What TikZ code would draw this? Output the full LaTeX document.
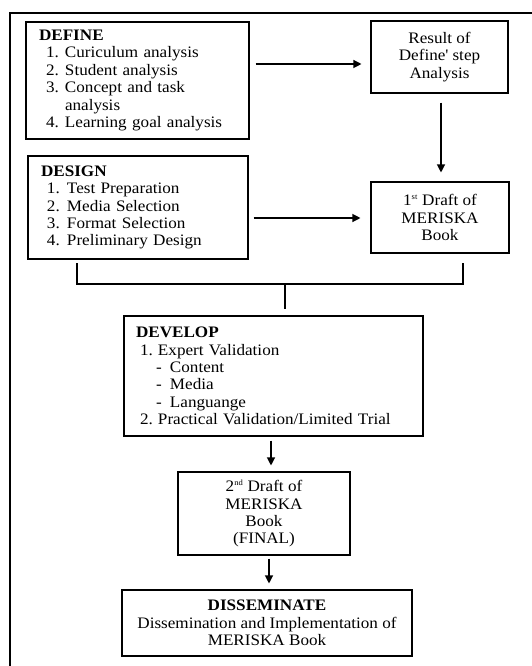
\documentclass[tikz,border=0pt]{standalone}
\usepackage{fontspec}
\setmainfont{Liberation Serif}[FakeStretch=1.07]
\usetikzlibrary{arrows.meta}
\newcommand{\rowlead}[3]{\hspace*{#1pt}\makebox[#2pt][l]{#3}}
\begin{document}
\begin{tikzpicture}[x=1pt, y=-1pt,
  font=\fontsize{16}{17.4}\selectfont,
  lbox/.style={draw, line width=1.1pt, align=left, inner ysep=0pt, inner xsep=13pt},
  cbox/.style={draw, line width=1.1pt, align=center, inner sep=0pt},
  conn/.style={line width=1.2pt},
  arr/.style={line width=1.2pt, -{Triangle[length=8pt,width=8pt]}},
  frame/.style={line width=1.4pt}]
\useasboundingbox (0,0) rectangle (532,666);
\draw[frame] (532,13) -- (10,13) -- (10,666);

\node[lbox, text width=197pt, minimum height=117pt] (define) at (137.5,80.5)
 {\textbf{DEFINE}\\
  \rowlead{7}{19}{1.}Curiculum analysis\\
  \rowlead{7}{19}{2.}Student analysis\\
  \rowlead{7}{19}{3.}Concept and task\\
  \rowlead{26}{0}{}analysis\\
  \rowlead{7}{19}{4.}Learning goal analysis};

\node[cbox, minimum width=137pt, minimum height=72pt] (result) at (439.5,57)
 {Result of\\ Define\textquotesingle{} step\\ Analysis};

\node[lbox, text width=194pt, minimum height=103pt] (design) at (138,207.5)
 {\textbf{DESIGN}\\
  \rowlead{6}{20}{1.}Test Preparation\\
  \rowlead{6}{20}{2.}Media Selection\\
  \rowlead{6}{20}{3.}Format Selection\\
  \rowlead{6}{20}{4.}Preliminary Design};

\node[cbox, minimum width=138pt, minimum height=71pt] (draft1) at (440,217.5)
 {1\textsuperscript{\fontsize{8}{8}\selectfont st} Draft of\\ MERISKA\\ Book};

\node[lbox, inner xsep=12pt, text width=275pt, minimum height=120pt] (develop) at (273.5,376)
 {\textbf{DEVELOP}\\
  \rowlead{4}{18}{1.}Expert Validation\\
  \rowlead{20}{14}{-}Content\\
  \rowlead{20}{14}{-}Media\\
  \rowlead{20}{14}{-}Languange\\
  \rowlead{4}{18}{2.}Practical Validation/Limited Trial};

\node[cbox, minimum width=172pt, minimum height=83pt] (draft2) at (264,513.5)
 {2\textsuperscript{\fontsize{8}{8}\selectfont nd} Draft of\\ MERISKA\\ Book\\ (FINAL)};

\node[cbox, minimum width=290pt, minimum height=66pt] (dissem) at (267,623)
 {\textbf{DISSEMINATE}\\ Dissemination and Implementation of\\ MERISKA Book};

\draw[arr, shorten <=6pt, shorten >=9pt] (define.east |- 0,64) -- (result.west |- 0,64);
\draw[arr, shorten <=9pt, shorten >=9pt] (result.south -| 441,0) -- (draft1.north -| 441,0);
\draw[arr, shorten <=5pt, shorten >=10pt] (design.east |- 0,218) -- (draft1.west |- 0,218);

\coordinate (jl) at (77,263);
\coordinate (jr) at (463,263);
\coordinate (jm) at (285,284);
\draw[conn] (jl) -- (77,284) -- (463,284) -- (jr);
\draw[conn, shorten >=6pt] (jm) -- (develop.north -| jm);

\draw[arr, shorten <=4pt, shorten >=6pt] (develop.south -| 271,0) -- (draft2.north -| 271,0);
\draw[arr, shorten <=3pt, shorten >=6pt] (draft2.south -| 269,0) -- (dissem.north -| 269,0);
\end{tikzpicture}
\end{document}
